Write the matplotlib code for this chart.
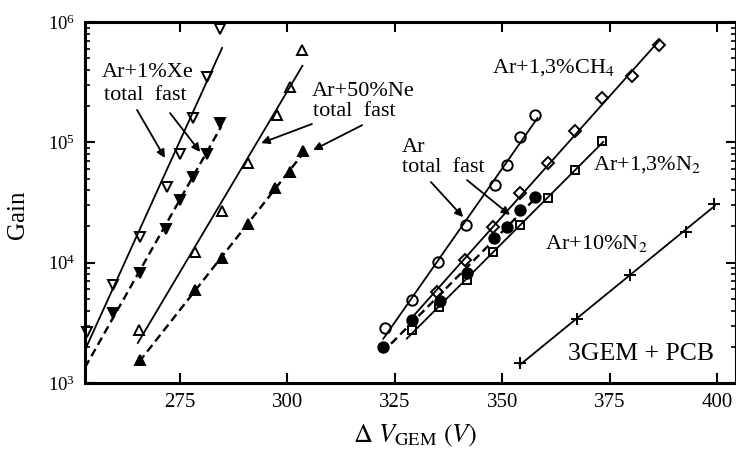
import numpy as np
import matplotlib
matplotlib.use("Agg")
import matplotlib.pyplot as plt

# values (voltage in V, gain)
xe_tot_v = [253.3, 259.4, 265.7, 272.0, 275.0, 278.0, 281.3, 284.3]
xe_tot_g = [2650, 6500, 16300, 42500, 80000, 159000, 349000, 875000]
xe_fast_v = [259.4, 265.7, 271.7, 275.0, 278.0, 281.3, 284.3]
xe_fast_g = [3810, 8200, 19000, 33100, 51500, 80000, 144000]

ne_tot_v = [265.4, 278.5, 284.8, 290.8, 297.6, 300.6, 303.4]
ne_tot_g = [2750, 12200, 26800, 67300, 168500, 288000, 585000]
ne_fast_v = [265.7, 278.5, 284.8, 290.8, 297.1, 300.6, 303.7]
ne_fast_g = [1550, 5920, 10900, 20900, 41700, 56600, 84700]

ar_tot_v = [322.8, 329.1, 335.1, 341.6, 348.2, 351.2, 354.2, 357.7]
ar_tot_g = [2860, 4890, 10100, 20500, 44200, 64700, 110700, 168500]
ar_fast_v = [322.3, 329.1, 335.6, 341.9, 348.0, 351.2, 354.2, 357.7]
ar_fast_g = [1990, 3330, 4800, 8200, 16000, 19800, 27400, 35100]

ch4_v = [334.9, 341.4, 347.9, 354.2, 360.7, 367.0, 373.3, 380.3, 386.4]
ch4_g = [5700, 10500, 19800, 37900, 67300, 124000, 233000, 356000, 644000]

n2_13_v = [329.1, 335.3, 341.9, 347.9, 354.2, 360.7, 367.0, 373.3]
n2_13_g = [2750, 4270, 7160, 12200, 20600, 34400, 58900, 102600]

n2_10_v = [354.2, 367.5, 379.8, 392.7, 399.2]
n2_10_g = [1460, 3400, 7890, 17900, 30700]

x_ticks = [275, 300, 325, 350, 375, 400]

plt.rcParams["font.family"] = ["Liberation Serif", "DejaVu Serif"]
plt.rcParams["mathtext.fontset"] = "stix"


def fit_line(ax, v, g, span, ls, dashes=None):
    k, b = np.polyfit(v, np.log10(g), 1)
    xs = np.array(span)
    line, = ax.plot(xs, 10 ** (k * xs + b), color="black", lw=1.3, ls=ls, zorder=2)
    if dashes:
        line.set_dashes(dashes)
        line.set_linewidth(1.7)


def main():
    fig = plt.figure(figsize=(7.36, 4.59), dpi=100)
    ax = fig.add_axes([0.1155, 0.1656, 0.8845, 0.7864])
    ax.set_yscale("log")

    # (x, y, marker, filled, line style, fit span)
    series = [
        (xe_tot_v, xe_tot_g, "v", False, "-", (252.9, 284.8)),
        (xe_fast_v, xe_fast_g, "v", True, "--", (252.9, 284.6)),
        (ne_tot_v, ne_tot_g, "^", False, "-", (265.2, 303.5)),
        (ne_fast_v, ne_fast_g, "^", True, "--", (265.5, 303.7)),
        (ar_tot_v, ar_tot_g, "o", False, "-", (322.3, 358.2)),
        (ar_fast_v, ar_fast_g, "o", True, "--", (322.0, 357.8)),
        (ch4_v, ch4_g, "D", False, "-", (328.0, 386.6)),
        (n2_13_v, n2_13_g, "s", False, "-", (327.8, 373.5)),
        (n2_10_v, n2_10_g, "+", False, "-", (354.0, 399.5)),
    ]
    sizes = {"v": 7.5, "^": 7.5, "o": 7.5, "D": 6.2, "s": 6.2, "+": 9}
    for v, g, m, filled, ls, span in series:
        fit_line(ax, v, g, span, ls, dashes=(3.5, 2) if ls == "--" else None)
        ax.plot(v, g, ls="none", marker=m, ms=sizes[m],
                mfc="black" if filled else "none", mec="black",
                mew=1.4, zorder=3, clip_on=False)

    ax.set_xlim(252.9, 404.4)
    ax.set_ylim(1e3, 1e6)
    ax.set_xticks(x_ticks)
    ax.tick_params(axis="both", which="major", direction="in", length=7,
                   width=1.5, top=True, right=True, labelsize=15, pad=7)
    ax.tick_params(axis="y", which="minor", direction="in", length=3.8,
                   width=1.2, right=True)
    ax.tick_params(axis="x", which="minor", bottom=False, top=False)
    for lab in ax.get_yticklabels():
        lab.set_fontsize(13.5)
    for s in ax.spines.values():
        s.set_linewidth(2.2)

    fs = 16
    ax.text(267.5, 3.84e5, "Ar+1%Xe", fontsize=fs, ha="center", va="center")
    ax.text(266.9, 2.47e5, "total  fast", fontsize=fs, ha="center", va="center")
    ax.text(305.7, 2.67e5, "Ar+50%Ne", fontsize=fs, ha="left", va="center")
    ax.text(305.9, 1.79e5, "total  fast", fontsize=fs, ha="left", va="center")
    ax.text(347.6, 4.15e5, "Ar+1,3%CH$_4$", fontsize=fs, ha="left", va="center")
    ax.text(326.7, 9.14e4, "Ar", fontsize=fs, ha="left", va="center")
    ax.text(326.7, 6.13e4, "total  fast", fontsize=fs, ha="left", va="center")
    ax.text(371.1, 6.49e4, "Ar+1,3%N$_2$", fontsize=fs, ha="left", va="center")
    ax.text(360.0, 1.43e4, "Ar+10%N$_2$", fontsize=fs, ha="left", va="center")
    ax.text(365.3, 1742, "3GEM + PCB", fontsize=18.5, ha="left", va="center")

    arrows = [
        ((265.0, 1.86e5), (271.5, 7.41e4)),
        ((272.7, 1.75e5), (279.7, 8.32e4)),
        ((305.7, 1.42e5), (293.9, 9.86e4)),
        ((317.4, 1.39e5), (306.0, 8.63e4)),
        ((333.4, 4.68e4), (340.9, 2.39e4)),
        ((341.8, 4.86e4), (351.8, 2.49e4)),
    ]
    for tail, head in arrows:
        ax.annotate("", xy=head, xytext=tail,
                    arrowprops=dict(arrowstyle="-|>", color="black", lw=1.3,
                                    mutation_scale=12, shrinkA=0, shrinkB=0))

    fig.text(18 / 736, 0.532, "Gain", rotation=90, fontsize=18,
             ha="center", va="center")
    fig.text(0.564, 0.037, r"$\Delta\ V_{\mathrm{GEM}}\ (V)$", fontsize=19,
             ha="center", va="baseline")

    fig.savefig("out.png", dpi=100)


if __name__ == "__main__":
    main()
